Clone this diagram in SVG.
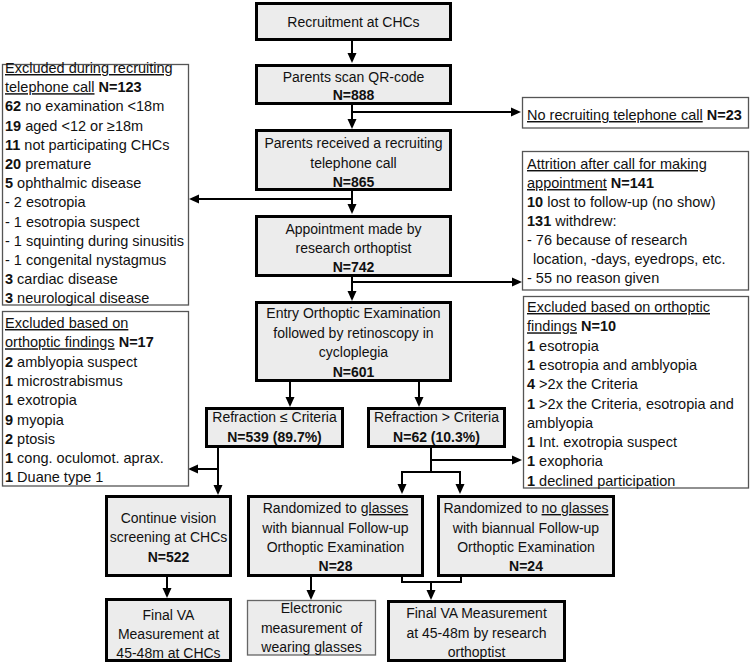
<svg xmlns="http://www.w3.org/2000/svg" width="750" height="663" viewBox="0 0 750 663">
<style>
text{font-family:"Liberation Sans",Arial,sans-serif;font-size:14.5px;fill:#111}
.c{text-anchor:middle;font-size:14px}
.b{font-weight:bold}
.u{text-decoration:underline}
.main{fill:#ececec;stroke:#000;stroke-width:3}
.side{fill:#fff;stroke:#555;stroke-width:1.3}
.light{fill:#ececec;stroke:#666;stroke-width:1.3}
.conn path{fill:none;stroke:#000;stroke-width:2}
</style>
<defs>
<marker id="ah" viewBox="0 0 10 10" refX="2" refY="5" markerWidth="10" markerHeight="10" markerUnits="userSpaceOnUse" orient="auto">
<path d="M0,0.5 L10,5 L0,9.5 z" fill="#000"/>
</marker>
</defs>
<rect width="750" height="663" fill="#fff"/>

<g class="conn">
<path d="M352,41 V55" marker-end="url(#ah)"/>
<path d="M352,105 V121" marker-end="url(#ah)"/>
<path d="M352,112 H513" marker-end="url(#ah)"/>
<path d="M352,191 V206" marker-end="url(#ah)"/>
<path d="M352,199 H197" marker-end="url(#ah)"/>
<path d="M352,277 V293" marker-end="url(#ah)"/>
<path d="M352,282 H514" marker-end="url(#ah)"/>
<path d="M290,382 V399" marker-end="url(#ah)"/>
<path d="M419,382 V399" marker-end="url(#ah)"/>
<path d="M218,448 V487" marker-end="url(#ah)"/>
<path d="M218,469 H196" marker-end="url(#ah)"/>
<path d="M431,448 V472"/>
<path d="M431,460 H514" marker-end="url(#ah)"/>
<path d="M401,472 H461"/>
<path d="M402,472 V486" marker-end="url(#ah)"/>
<path d="M460,472 V486" marker-end="url(#ah)"/>
<path d="M167,577 V590" marker-end="url(#ah)"/>
<path d="M311,577 V592" marker-end="url(#ah)"/>
<path d="M402,577 V582 H461 V577"/>
<path d="M431,582 V592" marker-end="url(#ah)"/>
</g>

<g id="recruit">
<rect class="main" x="256.5" y="3.5" width="194" height="36"/>
<text class="c" x="353.5" y="27">Recruitment at CHCs</text>
</g>
<g id="qr">
<rect class="main" x="256.5" y="65.5" width="194" height="38"/>
<text class="c" x="353.5" y="82">Parents scan QR-code</text>
<text class="c b" x="353.5" y="100">N=888</text>
</g>
<g id="nocall">
<rect class="side" x="522.5" y="97.5" width="226" height="30.5"/>
<text x="527" y="120"><tspan class="u">No recruiting telephone call</tspan> <tspan class="b">N=23</tspan></text>
</g>
<g id="call">
<rect class="main" x="256.5" y="130.5" width="194" height="59"/>
<text class="c" x="353.5" y="148">Parents received a recruiting</text>
<text class="c" x="353.5" y="167.5">telephone call</text>
<text class="c b" x="353.5" y="187">N=865</text>
</g>
<g id="excl-call">
<rect class="side" x="2.5" y="64.5" width="186" height="240.5"/>
<text x="5" y="73"><tspan class="u">Excluded during recruiting</tspan></text>
<text x="5" y="92.2"><tspan class="u">telephone call</tspan> <tspan class="b">N=123</tspan></text>
<text x="5" y="111.4"><tspan class="b">62</tspan> no examination &lt;18m</text>
<text x="5" y="130.6"><tspan class="b">19</tspan> aged &lt;12 or ≥18m</text>
<text x="5" y="149.8"><tspan class="b">11</tspan> not participating CHCs</text>
<text x="5" y="169"><tspan class="b">20</tspan> premature</text>
<text x="5" y="188.2"><tspan class="b">5</tspan> ophthalmic disease</text>
<text x="5" y="207.4">- 2 esotropia</text>
<text x="5" y="226.6">- 1 esotropia suspect</text>
<text x="5" y="245.8">- 1 squinting during sinusitis</text>
<text x="5" y="265">- 1 congenital nystagmus</text>
<text x="5" y="284.2"><tspan class="b">3</tspan> cardiac disease</text>
<text x="5" y="303.4"><tspan class="b">3</tspan> neurological disease</text>
</g>
<g id="appt">
<rect class="main" x="256.5" y="216.5" width="194" height="59"/>
<text class="c" x="353.5" y="234">Appointment made by</text>
<text class="c" x="353.5" y="253">research orthoptist</text>
<text class="c b" x="353.5" y="272">N=742</text>
</g>
<g id="attrition">
<rect class="side" x="522.5" y="151.5" width="226" height="138.5"/>
<text x="527" y="169"><tspan class="u">Attrition after call for making</tspan></text>
<text x="527" y="188"><tspan class="u">appointment</tspan> <tspan class="b">N=141</tspan></text>
<text x="527" y="207"><tspan class="b">10</tspan> lost to follow-up (no show)</text>
<text x="527" y="226"><tspan class="b">131</tspan> withdrew:</text>
<text x="527" y="245">-  76 because of research</text>
<text x="533" y="264">location, -days, eyedrops, etc.</text>
<text x="527" y="283">-  55 no reason given</text>
</g>
<g id="entry">
<rect class="main" x="256.5" y="302.5" width="194" height="78"/>
<text class="c" x="353.5" y="318">Entry Orthoptic Examination</text>
<text class="c" x="353.5" y="337.5">followed by retinoscopy in</text>
<text class="c" x="353.5" y="357">cycloplegia</text>
<text class="c b" x="353.5" y="376.5">N=601</text>
</g>
<g id="excl-orth-left">
<rect class="side" x="2.5" y="311.5" width="186" height="174.5"/>
<text x="5" y="328"><tspan class="u">Excluded based on</tspan></text>
<text x="5" y="347.3"><tspan class="u">orthoptic findings</tspan> <tspan class="b">N=17</tspan></text>
<text x="5" y="366.6"><tspan class="b">2</tspan> amblyopia suspect</text>
<text x="5" y="385.9"><tspan class="b">1</tspan> microstrabismus</text>
<text x="5" y="405.2"><tspan class="b">1</tspan> exotropia</text>
<text x="5" y="424.5"><tspan class="b">9</tspan> myopia</text>
<text x="5" y="443.8"><tspan class="b">2</tspan> ptosis</text>
<text x="5" y="463.1"><tspan class="b">1</tspan> cong. oculomot. aprax.</text>
<text x="5" y="482.4"><tspan class="b">1</tspan> Duane type 1</text>
</g>
<g id="excl-orth-right">
<rect class="side" x="523.5" y="296.5" width="225" height="191.5"/>
<text x="527" y="312"><tspan class="u">Excluded based on orthoptic</tspan></text>
<text x="527" y="331.3"><tspan class="u">findings</tspan> <tspan class="b">N=10</tspan></text>
<text x="527" y="350.6"><tspan class="b">1</tspan> esotropia</text>
<text x="527" y="369.9"><tspan class="b">1</tspan> esotropia and amblyopia</text>
<text x="527" y="389.2"><tspan class="b">4</tspan> &gt;2x the Criteria</text>
<text x="527" y="408.5"><tspan class="b">1</tspan> &gt;2x the Criteria, esotropia and</text>
<text x="527" y="427.8">amblyopia</text>
<text x="527" y="447.1"><tspan class="b">1</tspan> Int. exotropia suspect</text>
<text x="527" y="466.4"><tspan class="b">1</tspan> exophoria</text>
<text x="527" y="485.7"><tspan class="b">1</tspan> declined participation</text>
</g>
<g id="ref-le">
<rect class="main" x="206.5" y="408.5" width="136" height="38"/>
<text class="c" x="274.5" y="422">Refraction ≤ Criteria</text>
<text class="c b" x="274.5" y="442">N=539 (89.7%)</text>
</g>
<g id="ref-gt">
<rect class="main" x="368.5" y="408.5" width="136" height="38"/>
<text class="c" x="436.5" y="422">Refraction &gt; Criteria</text>
<text class="c b" x="436.5" y="442">N=62 (10.3%)</text>
</g>
<g id="continue">
<rect class="main" x="106.5" y="496.5" width="124" height="79"/>
<text class="c" x="168.5" y="523">Continue vision</text>
<text class="c" x="168.5" y="542">screening at CHCs</text>
<text class="c b" x="168.5" y="562">N=522</text>
</g>
<g id="glasses">
<rect class="main" x="248.5" y="496.5" width="174" height="79"/>
<text class="c" x="335.5" y="513">Randomized to <tspan class="u">glasses</tspan></text>
<text class="c" x="335.5" y="532.5">with biannual Follow-up</text>
<text class="c" x="335.5" y="552">Orthoptic Examination</text>
<text class="c b" x="335.5" y="571">N=28</text>
</g>
<g id="noglasses">
<rect class="main" x="438.5" y="496.5" width="175" height="79"/>
<text class="c" x="526" y="513">Randomized to <tspan class="u">no glasses</tspan></text>
<text class="c" x="526" y="532.5">with biannual Follow-up</text>
<text class="c" x="526" y="552">Orthoptic Examination</text>
<text class="c b" x="526" y="571">N=24</text>
</g>
<g id="final-chc">
<rect class="main" x="106.5" y="599.5" width="124" height="61"/>
<text class="c" x="168.5" y="620">Final VA</text>
<text class="c" x="168.5" y="639">Measurement at</text>
<text class="c" x="168.5" y="658">45-48m at CHCs</text>
</g>
<g id="electronic">
<rect class="light" x="247.5" y="600.5" width="128" height="54.5"/>
<text class="c" x="311.5" y="613">Electronic</text>
<text class="c" x="311.5" y="632.5">measurement of</text>
<text class="c" x="311.5" y="652">wearing glasses</text>
</g>
<g id="final-research">
<rect class="main" x="388.5" y="601.5" width="176" height="59"/>
<text class="c" x="476.5" y="618">Final VA Measurement</text>
<text class="c" x="476.5" y="637.5">at 45-48m by research</text>
<text class="c" x="476.5" y="657">orthoptist</text>
</g>
</svg>
